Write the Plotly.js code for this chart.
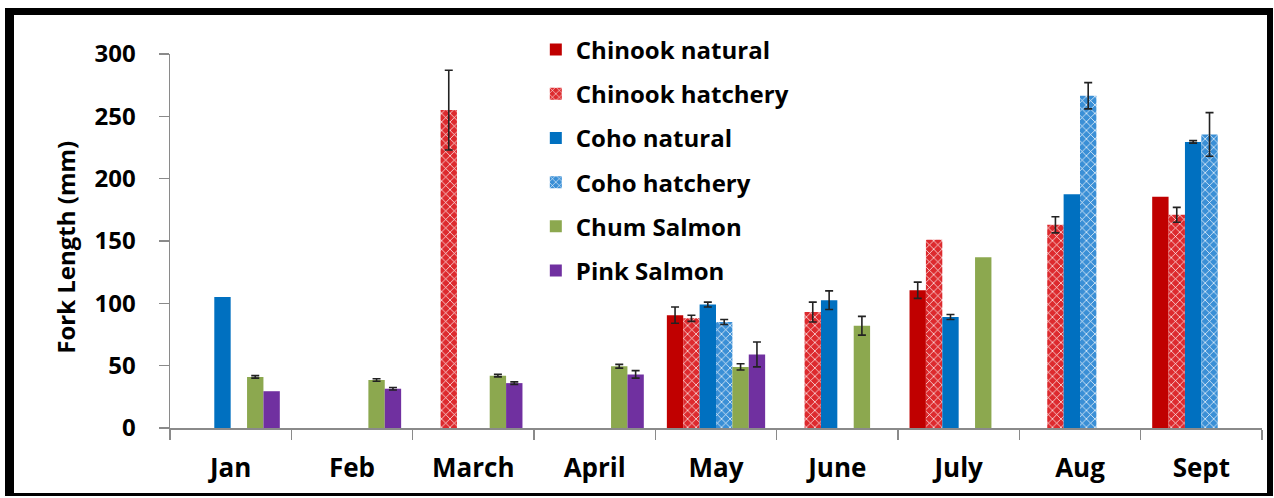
<!DOCTYPE html>
<html>
<head>
<meta charset="utf-8">
<script src="https://cdn.plot.ly/plotly-3.0.1.min.js"></script>
<style>
  html, body { margin: 0; padding: 0; background: #ffffff; }
  #wrap { position: relative; width: 1274px; height: 498px; }
  #chart { position: absolute; left: 0; top: 0; width: 1274px; height: 498px; }
  #frame { position: absolute; left: 5px; top: 8px; width: 1253px; height: 478px;
           border-left: 9px solid #000; border-top: 7px solid #000;
           border-right: 6px solid #000; border-bottom: 3px solid #000; pointer-events: none; }
</style>
</head>
<body>
<div id="wrap">
  <div id="chart"></div>
  <div id="frame"></div>
</div>
<script>
const months = ['Jan', 'Feb', 'March', 'April', 'May', 'June', 'July', 'Aug', 'Sept'];

const chinookNatural    = [null, null, null, null, 90.5, null, 110.5, null, 185.5];
const chinookNaturalErr = [null, null, null, null, 6.5, null, 6.5, null, null];

const chinookHatchery    = [null, null, 255, null, 88, 93, 151, 163, 171];
const chinookHatcheryErr = [null, null, 32, null, 2.5, 8, null, 6.5, 6];

const cohoNatural    = [105, null, null, null, 99, 102.5, 89, 187.5, 229.5];
const cohoNaturalErr = [null, null, null, null, 2, 7.5, 2, null, 1];

const cohoHatchery    = [null, null, null, null, 85, null, null, 266.5, 235.5];
const cohoHatcheryErr = [null, null, null, null, 2, null, null, 10.5, 17.5];

const chumSalmon    = [41, 38.5, 42, 49.5, 49, 82, 137, null, null];
const chumSalmonErr = [1, 1, 1, 1.5, 2.5, 7.5, null, null, null];

const pinkSalmon    = [29.5, 31.5, 36, 43, 59, null, null, null, null];
const pinkSalmonErr = [null, 1, 1, 3, 10, null, null, null, null];

const seriesNames = ['Chinook natural', 'Chinook hatchery', 'Coho natural', 'Coho hatchery', 'Chum Salmon', 'Pink Salmon'];

function errBar(arr) {
  return { type: 'data', array: arr.map(v => v === null ? NaN : v), visible: true,
           color: '#222', thickness: 1.6, width: 4 };
}

function solid(name, y, err, color) {
  return { type: 'bar', name: name, x: months, y: y, legendgroup: name,
           marker: { color: color, line: { width: 0 } }, error_y: errBar(err) };
}
function hatched(name, y, err, color) {
  return { type: 'bar', name: name, x: months, y: y, legendgroup: name,
           marker: { color: color, line: { width: 0 },
                     pattern: { shape: 'x', fillmode: 'replace', bgcolor: color, fgcolor: '#ffffff', size: 6, solidity: 0.22 } },
           error_y: errBar(err) };
}

const data = [
  solid(seriesNames[0], chinookNatural, chinookNaturalErr, '#C00000'),
  hatched(seriesNames[1], chinookHatchery, chinookHatcheryErr, '#DD2A2E'),
  solid(seriesNames[2], cohoNatural, cohoNaturalErr, '#0070C0'),
  hatched(seriesNames[3], cohoHatchery, cohoHatcheryErr, '#3A8FD6'),
  solid(seriesNames[4], chumSalmon, chumSalmonErr, '#8CA84F'),
  solid(seriesNames[5], pinkSalmon, pinkSalmonErr, '#7030A0')
];

const axisGray = '#8a8a8a';
const fam = '"Open Sans", Lato, "Liberation Sans", sans-serif';
const layout = {
  width: 1274, height: 498,
  margin: { l: 170, r: 12, t: 54, b: 70 },
  paper_bgcolor: '#ffffff', plot_bgcolor: '#ffffff',
  font: { family: fam, color: '#000' },
  barmode: 'group', bargap: 0.19, bargroupgap: 0,
  showlegend: true,
  legend: { x: 0.335, xanchor: 'left', y: 1.071, yanchor: 'top', bgcolor: 'rgba(0,0,0,0)',
            maxheight: 460,
            font: { family: fam, size: 24, weight: 'bold', color: '#000' }, tracegroupgap: 10, traceorder: 'grouped' },
  xaxis: { type: 'category', showline: true, linecolor: axisGray, linewidth: 1.5,
           ticks: 'outside', tickson: 'boundaries', ticklen: 10, tickcolor: axisGray, tickwidth: 1.5,
           showgrid: false, tickfont: { family: fam, size: 26, weight: 'bold' }, ticklabelstandoff: 16, fixedrange: true },
  yaxis: { range: [0, 300], dtick: 50, showline: true, linecolor: axisGray, linewidth: 1.5,
           ticks: 'outside', ticklen: 10, tickcolor: axisGray, tickwidth: 1.5,
           showgrid: false, zeroline: false, tickfont: { family: fam, size: 24, weight: 'bold' }, ticklabelstandoff: 18 },
  annotations: [{ text: 'Fork Length (mm)', textangle: -90, xref: 'paper', yref: 'paper',
                  x: -0.0952, y: 0.482, xanchor: 'center', yanchor: 'middle', showarrow: false,
                  font: { family: fam, size: 24, weight: 'bold', color: '#000' } }]
};

Plotly.newPlot('chart', data, layout, { displayModeBar: false, staticPlot: true });
</script>
</body>
</html>
